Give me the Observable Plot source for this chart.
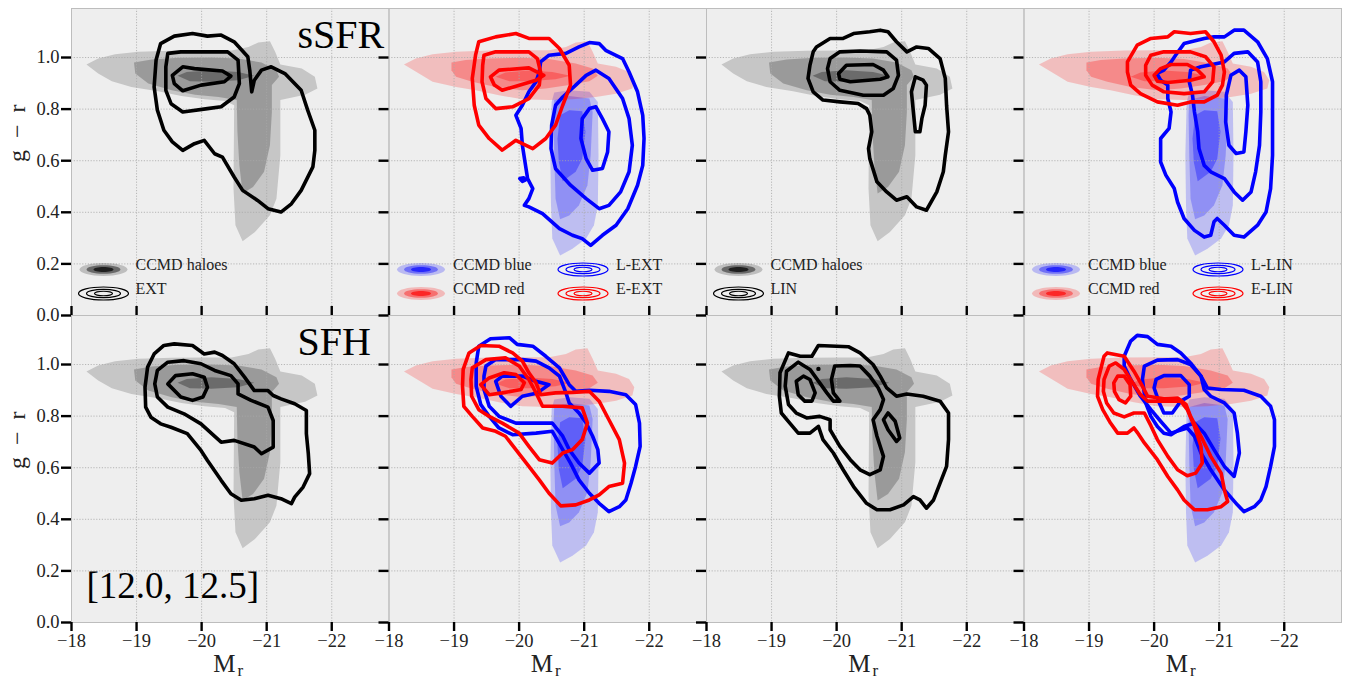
<!DOCTYPE html>
<html><head><meta charset="utf-8">
<script src="https://cdn.jsdelivr.net/npm/d3@7"></script>
<script src="https://cdn.jsdelivr.net/npm/@observablehq/plot@0.6"></script>
<style>body{margin:0;background:#fff;} #chart svg{display:block}</style>
</head><body><div id="chart"></div>
<script>
// ---------- axes / labels ----------
const xTicks = [-18, -19, -20, -21, -22];
const yTicks = [0, 0.2, 0.4, 0.6, 0.8, 1.0];
const rowLabels = ["sSFR", "SFH"];
const massBin = "[12.0, 12.5]";
const xLabel = ["M", "r"];
const yLabel = "g\u2002\u2212\u2002r";
const legendFillLabels = ["CCMD haloes", "CCMD blue", "CCMD red"];
const legendLineLabels = ["EXT", "LIN", "L-EXT", "E-EXT", "L-LIN", "E-LIN"];

// ---------- CCMD shaded distributions [Mr, g-r] ----------
const grayLight = [[-18.23,0.973],[-18.41,0.996],[-18.67,1.013],[-19.03,1.022],[-19.54,1.026],[-20.05,1.027],[-20.46,1.027],[-20.72,1.041],[-20.87,1.058],[-21.05,1.063],[-21.13,1.022],[-21.21,0.973],[-21.54,0.957],[-21.74,0.925],[-21.78,0.880],[-21.59,0.856],[-21.21,0.835],[-21.21,0.621],[-21.15,0.453],[-21.05,0.389],[-20.82,0.324],[-20.63,0.288],[-20.52,0.350],[-20.49,0.492],[-20.50,0.815],[-20.36,0.831],[-20.05,0.838],[-19.69,0.851],[-19.33,0.869],[-18.92,0.886],[-18.62,0.908],[-18.41,0.938]];
const grayMid = [[-18.96,0.981],[-19.23,0.992],[-19.64,0.999],[-20.15,1.000],[-20.56,0.996],[-20.92,0.981],[-21.15,0.951],[-21.19,0.925],[-21.08,0.893],[-21.08,0.789],[-21.05,0.660],[-20.96,0.557],[-20.79,0.498],[-20.63,0.473],[-20.58,0.582],[-20.55,0.712],[-20.54,0.835],[-20.26,0.847],[-19.90,0.856],[-19.54,0.873],[-19.18,0.899],[-18.98,0.938]];
const grayDark = [[-19.63,0.929],[-19.77,0.944],[-20.15,0.951],[-20.56,0.944],[-20.81,0.929],[-20.56,0.912],[-20.15,0.906],[-19.82,0.908]];
const redLight = [[-18.23,0.973],[-18.41,0.996],[-18.67,1.013],[-19.03,1.022],[-19.54,1.027],[-20.05,1.028],[-20.46,1.028],[-20.72,1.041],[-20.87,1.058],[-21.05,1.063],[-21.13,1.022],[-21.21,0.977],[-21.49,0.964],[-21.69,0.944],[-21.77,0.912],[-21.74,0.880],[-21.49,0.860],[-21.18,0.847],[-20.82,0.838],[-20.46,0.835],[-20.05,0.838],[-19.69,0.854],[-19.33,0.873],[-19.03,0.886],[-18.67,0.906],[-18.46,0.938]];
const redMid = [[-18.96,0.981],[-19.18,0.990],[-19.54,0.996],[-20.05,0.999],[-20.46,0.994],[-20.87,0.977],[-21.13,0.957],[-21.21,0.929],[-21.08,0.908],[-20.77,0.893],[-20.41,0.880],[-20.05,0.873],[-19.64,0.886],[-19.28,0.906],[-19.03,0.925],[-18.96,0.951]];
const redDark = [[-19.64,0.925],[-19.79,0.942],[-20.15,0.950],[-20.51,0.944],[-20.79,0.929],[-20.56,0.916],[-20.15,0.908],[-19.85,0.908]];
const blueLight = [[-20.50,0.828],[-20.54,0.864],[-20.77,0.873],[-21.08,0.867],[-21.21,0.828],[-21.22,0.621],[-21.21,0.427],[-21.15,0.350],[-21.03,0.298],[-20.82,0.259],[-20.63,0.233],[-20.51,0.298],[-20.49,0.427],[-20.48,0.621]];
const blueMid = [[-20.54,0.835],[-20.77,0.851],[-21.08,0.841],[-21.13,0.789],[-21.10,0.621],[-21.05,0.505],[-20.92,0.427],[-20.77,0.388],[-20.63,0.373],[-20.56,0.453],[-20.54,0.621],[-20.53,0.776]];
const blueDark = [[-20.63,0.776],[-20.77,0.796],[-20.97,0.792],[-21.02,0.712],[-20.97,0.608],[-20.87,0.557],[-20.67,0.520],[-20.61,0.595],[-20.59,0.686]];

// ---------- model contours, sSFR row ----------
const ssfrExtOut = [[-19.37,1.054],[-19.58,1.083],[-19.86,1.093],[-20.09,1.083],[-20.30,1.087],[-20.50,1.061],[-20.71,1.003],[-20.74,0.951],[-20.77,0.867],[-20.81,0.912],[-20.92,0.951],[-21.07,0.964],[-21.28,0.938],[-21.53,0.873],[-21.63,0.796],[-21.74,0.718],[-21.74,0.640],[-21.71,0.576],[-21.53,0.485],[-21.38,0.433],[-21.22,0.401],[-21.02,0.414],[-20.86,0.446],[-20.63,0.485],[-20.50,0.537],[-20.32,0.614],[-20.20,0.627],[-20.04,0.679],[-19.89,0.666],[-19.71,0.640],[-19.55,0.673],[-19.42,0.718],[-19.32,0.796],[-19.27,0.886],[-19.30,0.990]];
const ssfrExtMid = [[-19.48,1.016],[-19.68,1.022],[-20.40,1.022],[-20.56,0.990],[-20.58,0.899],[-20.50,0.847],[-20.30,0.809],[-20.09,0.802],[-19.71,0.789],[-19.53,0.821],[-19.45,0.873],[-19.45,0.964]];
const ssfrExtIn = [[-19.55,0.931],[-19.71,0.964],[-19.89,0.957],[-20.32,0.948],[-20.45,0.928],[-20.35,0.906],[-19.99,0.893],[-19.71,0.871],[-19.58,0.899]];
const ssfrEextOut = [[-19.38,1.061],[-19.64,1.080],[-19.95,1.093],[-20.15,1.074],[-20.46,1.074],[-20.62,1.035],[-20.77,0.970],[-20.79,0.893],[-20.67,0.815],[-20.56,0.738],[-20.41,0.686],[-20.21,0.647],[-20.05,0.666],[-19.95,0.679],[-19.74,0.641],[-19.54,0.686],[-19.38,0.738],[-19.31,0.815],[-19.28,0.919],[-19.33,1.009]];
const ssfrEextMid = [[-19.46,1.009],[-19.64,1.022],[-20.15,1.022],[-20.28,0.996],[-20.33,0.944],[-20.31,0.893],[-20.15,0.841],[-19.90,0.809],[-19.64,0.802],[-19.49,0.841],[-19.43,0.906],[-19.44,0.970]];
const ssfrEextIn = [[-19.56,0.925],[-19.69,0.951],[-20.15,0.960],[-20.38,0.931],[-20.26,0.912],[-19.74,0.873],[-19.62,0.893]];
const ssfrLextOut = [[-20.33,0.983],[-20.46,1.009],[-20.72,1.016],[-20.92,1.041],[-21.08,1.058],[-21.23,1.054],[-21.33,1.028],[-21.59,0.996],[-21.69,0.944],[-21.82,0.867],[-21.90,0.776],[-21.92,0.686],[-21.90,0.582],[-21.82,0.505],[-21.67,0.414],[-21.49,0.350],[-21.28,0.311],[-21.10,0.272],[-20.97,0.298],[-20.82,0.311],[-20.62,0.337],[-20.36,0.395],[-20.15,0.421],[-20.08,0.427],[-20.15,0.453],[-20.21,0.492],[-20.13,0.531],[-20.05,0.660],[-20.03,0.725],[-19.95,0.776],[-20.05,0.815],[-20.15,0.867],[-20.26,0.906],[-20.31,0.944]];
const ssfrLextMid = [[-20.87,0.893],[-21.03,0.931],[-21.18,0.951],[-21.38,0.919],[-21.59,0.841],[-21.69,0.763],[-21.74,0.660],[-21.69,0.557],[-21.56,0.479],[-21.38,0.427],[-21.23,0.414],[-21.03,0.453],[-20.79,0.505],[-20.56,0.569],[-20.49,0.647],[-20.50,0.738],[-20.56,0.815],[-20.67,0.847]];
const ssfrLextIn = [[-21.08,0.802],[-21.18,0.809],[-21.28,0.763],[-21.38,0.712],[-21.36,0.634],[-21.28,0.570],[-21.13,0.563],[-21.03,0.608],[-20.95,0.686],[-20.97,0.763]];
const ssfrLextSpot = [[-20.01,0.531],[-20.07,0.534],[-20.10,0.526],[-20.05,0.520]];
const ssfrLinOut = [[-19.69,1.041],[-19.90,1.074],[-20.10,1.074],[-20.26,1.093],[-20.51,1.100],[-20.67,1.106],[-20.79,1.100],[-20.92,1.061],[-21.08,1.022],[-21.23,1.041],[-21.41,1.035],[-21.59,0.996],[-21.67,0.919],[-21.69,0.815],[-21.72,0.712],[-21.67,0.621],[-21.64,0.557],[-21.54,0.479],[-21.38,0.408],[-21.23,0.421],[-21.08,0.460],[-20.92,0.447],[-20.77,0.479],[-20.62,0.518],[-20.51,0.608],[-20.49,0.647],[-20.54,0.712],[-20.51,0.776],[-20.46,0.802],[-20.33,0.822],[-20.05,0.828],[-19.79,0.835],[-19.64,0.867],[-19.56,0.919],[-19.59,0.970],[-19.64,1.022]];
const ssfrLinMid = [[-19.90,0.996],[-20.05,1.022],[-20.36,1.025],[-20.77,1.022],[-20.92,0.990],[-20.95,0.931],[-20.87,0.880],[-20.72,0.854],[-20.41,0.854],[-20.05,0.873],[-19.90,0.906],[-19.86,0.957]];
const ssfrLinIn = [[-20.03,0.938],[-20.15,0.970],[-20.56,0.973],[-20.72,0.951],[-20.79,0.925],[-20.67,0.916],[-20.21,0.906],[-20.05,0.916]];
const ssfrLinSide = [[-21.21,0.925],[-21.33,0.912],[-21.38,0.893],[-21.36,0.815],[-21.31,0.763],[-21.28,0.712],[-21.21,0.712],[-21.18,0.789],[-21.15,0.867]];
const ssfrElinOut = [[-19.59,0.983],[-19.74,1.048],[-19.95,1.074],[-20.21,1.080],[-20.31,1.100],[-20.56,1.093],[-20.79,1.100],[-20.92,1.061],[-21.03,1.009],[-21.08,0.944],[-21.05,0.893],[-20.97,0.854],[-20.77,0.828],[-20.56,0.828],[-20.36,0.815],[-20.05,0.828],[-19.79,0.860],[-19.64,0.893],[-19.59,0.944]];
const ssfrElinMid = [[-19.87,0.970],[-19.95,1.009],[-20.15,1.022],[-20.56,1.022],[-20.79,1.003],[-20.92,0.964],[-20.90,0.906],[-20.77,0.867],[-20.46,0.860],[-20.15,0.867],[-19.97,0.893],[-19.87,0.931]];
const ssfrElinIn = [[-20.00,0.931],[-20.10,0.957],[-20.26,0.973],[-20.51,0.973],[-20.67,0.951],[-20.77,0.925],[-20.56,0.912],[-20.21,0.903],[-20.05,0.908]];
const ssfrLlinOut = [[-20.33,1.009],[-20.46,1.054],[-20.77,1.074],[-20.92,1.080],[-21.08,1.080],[-21.23,1.106],[-21.38,1.106],[-21.59,1.061],[-21.74,0.996],[-21.82,0.906],[-21.82,0.750],[-21.82,0.621],[-21.79,0.492],[-21.72,0.401],[-21.59,0.350],[-21.38,0.304],[-21.23,0.311],[-21.08,0.350],[-20.97,0.376],[-20.92,0.363],[-20.87,0.311],[-20.77,0.304],[-20.62,0.330],[-20.46,0.376],[-20.36,0.440],[-20.31,0.492],[-20.18,0.544],[-20.10,0.595],[-20.10,0.686],[-20.23,0.725],[-20.26,0.789],[-20.21,0.841],[-20.21,0.893],[-20.10,0.912],[-20.04,0.938],[-20.15,0.951],[-20.26,0.983]];
const ssfrLlinMid = [[-20.56,0.951],[-20.72,0.964],[-21.08,0.983],[-21.23,1.016],[-21.44,1.022],[-21.59,0.983],[-21.64,0.906],[-21.64,0.789],[-21.62,0.660],[-21.56,0.557],[-21.49,0.479],[-21.36,0.447],[-21.23,0.479],[-21.08,0.531],[-20.87,0.557],[-20.77,0.582],[-20.69,0.647],[-20.67,0.712],[-20.62,0.789],[-20.59,0.854],[-20.54,0.906]];
const ssfrLlinIn = [[-21.18,0.931],[-21.31,0.951],[-21.41,0.925],[-21.44,0.815],[-21.41,0.712],[-21.38,0.634],[-21.26,0.628],[-21.15,0.660],[-21.10,0.750],[-21.11,0.854]];

// ---------- model contours, SFH row ----------
const sfhExtOut = [[-19.27,1.041],[-19.42,1.074],[-19.58,1.080],[-19.86,1.074],[-20.04,1.041],[-20.20,1.048],[-20.32,1.035],[-20.50,1.003],[-20.66,0.951],[-20.81,0.899],[-21.02,0.899],[-21.10,0.880],[-21.22,0.867],[-21.43,0.848],[-21.61,0.822],[-21.61,0.732],[-21.64,0.654],[-21.66,0.577],[-21.56,0.525],[-21.43,0.486],[-21.38,0.461],[-21.22,0.480],[-21.02,0.493],[-20.81,0.480],[-20.61,0.474],[-20.45,0.499],[-20.30,0.551],[-20.09,0.628],[-19.99,0.667],[-19.78,0.732],[-19.53,0.757],[-19.37,0.770],[-19.22,0.796],[-19.14,0.835],[-19.13,0.912],[-19.17,0.990]];
const sfhExtMid = [[-19.32,0.977],[-19.48,1.009],[-19.73,1.015],[-19.99,1.003],[-20.20,0.977],[-20.45,0.957],[-20.56,0.925],[-20.56,0.886],[-20.76,0.861],[-21.02,0.835],[-21.10,0.783],[-21.10,0.680],[-20.92,0.654],[-20.81,0.680],[-20.50,0.706],[-20.30,0.699],[-19.99,0.770],[-19.73,0.809],[-19.48,0.835],[-19.32,0.874],[-19.28,0.925]];
const sfhExtIn = [[-19.48,0.925],[-19.60,0.957],[-19.86,0.964],[-20.04,0.951],[-20.09,0.912],[-20.02,0.874],[-19.86,0.861],[-19.68,0.874]];
const sfhLextOut = [[-19.38,1.071],[-19.56,1.100],[-19.85,1.104],[-19.97,1.078],[-20.21,1.071],[-20.41,1.032],[-20.62,0.987],[-20.77,0.922],[-20.87,0.896],[-21.08,0.900],[-21.38,0.896],[-21.64,0.883],[-21.79,0.845],[-21.85,0.773],[-21.86,0.683],[-21.79,0.605],[-21.72,0.540],[-21.64,0.475],[-21.54,0.449],[-21.38,0.430],[-21.23,0.462],[-21.08,0.501],[-20.92,0.553],[-20.79,0.618],[-20.67,0.670],[-20.51,0.741],[-20.26,0.734],[-19.90,0.728],[-19.69,0.754],[-19.54,0.799],[-19.41,0.845],[-19.34,0.916],[-19.34,1.006]];
const sfhLextMid = [[-19.49,0.994],[-19.64,1.019],[-20.05,1.019],[-20.26,1.013],[-20.46,0.987],[-20.62,0.955],[-20.72,0.890],[-20.77,0.851],[-20.92,0.812],[-21.03,0.773],[-21.13,0.722],[-21.21,0.670],[-21.23,0.618],[-21.08,0.579],[-20.92,0.618],[-20.77,0.670],[-20.67,0.722],[-20.51,0.773],[-20.21,0.773],[-19.95,0.773],[-19.69,0.799],[-19.54,0.838],[-19.46,0.903],[-19.46,0.955]];
const sfhLextIn = [[-19.64,0.935],[-19.74,0.955],[-20.05,0.955],[-20.26,0.935],[-20.46,0.922],[-20.28,0.890],[-20.05,0.877],[-19.87,0.838],[-19.72,0.877]];
const sfhEextOut = [[-19.23,1.045],[-19.41,1.074],[-19.69,1.071],[-19.90,1.045],[-20.05,1.013],[-20.15,0.968],[-20.26,0.929],[-20.33,0.883],[-20.56,0.890],[-20.82,0.892],[-21.08,0.896],[-21.23,0.858],[-21.38,0.786],[-21.54,0.709],[-21.62,0.618],[-21.59,0.540],[-21.38,0.527],[-21.23,0.495],[-21.08,0.475],[-20.87,0.456],[-20.64,0.452],[-20.46,0.501],[-20.31,0.553],[-20.15,0.605],[-19.95,0.670],[-19.79,0.722],[-19.64,0.741],[-19.44,0.754],[-19.28,0.799],[-19.15,0.838],[-19.13,0.916],[-19.14,0.981]];
const sfhEextMid = [[-19.28,0.987],[-19.49,1.019],[-19.79,1.026],[-20.00,0.994],[-20.15,0.942],[-20.26,0.890],[-20.36,0.838],[-20.67,0.838],[-20.97,0.832],[-21.05,0.773],[-20.97,0.709],[-20.82,0.670],[-20.67,0.657],[-20.51,0.618],[-20.31,0.631],[-20.15,0.683],[-20.00,0.734],[-19.74,0.773],[-19.54,0.799],[-19.38,0.825],[-19.27,0.877],[-19.26,0.942]];
const sfhEextIn = [[-19.41,0.922],[-19.54,0.948],[-19.77,0.968],[-19.95,0.961],[-20.08,0.929],[-20.03,0.903],[-19.74,0.890],[-19.54,0.883]];
const sfhLinOut = [[-19.13,0.968],[-19.26,1.045],[-19.44,1.032],[-19.62,1.032],[-19.72,1.074],[-20.00,1.071],[-20.18,1.069],[-20.36,1.045],[-20.56,1.000],[-20.67,0.955],[-20.77,0.909],[-20.92,0.877],[-21.08,0.886],[-21.33,0.877],[-21.59,0.858],[-21.72,0.812],[-21.72,0.709],[-21.69,0.605],[-21.59,0.540],[-21.49,0.475],[-21.38,0.443],[-21.28,0.475],[-21.18,0.488],[-21.03,0.456],[-20.82,0.437],[-20.62,0.437],[-20.46,0.462],[-20.26,0.527],[-20.10,0.592],[-19.95,0.657],[-19.79,0.709],[-19.72,0.760],[-19.59,0.734],[-19.41,0.734],[-19.28,0.773],[-19.15,0.812],[-19.12,0.877]];
const sfhLinMid = [[-19.23,0.974],[-19.41,1.009],[-19.59,0.981],[-19.74,0.929],[-19.85,0.890],[-19.95,0.858],[-20.05,0.858],[-19.95,0.890],[-19.92,0.942],[-19.97,0.994],[-20.21,0.996],[-20.36,0.994],[-20.51,0.955],[-20.64,0.909],[-20.72,0.864],[-20.67,0.825],[-20.56,0.786],[-20.62,0.722],[-20.72,0.644],[-20.67,0.592],[-20.51,0.573],[-20.36,0.592],[-20.21,0.631],[-20.05,0.683],[-19.90,0.747],[-19.90,0.786],[-19.74,0.799],[-19.54,0.793],[-19.38,0.812],[-19.26,0.845],[-19.21,0.916]];
const sfhLinIn = [[-19.38,0.935],[-19.49,0.955],[-19.59,0.942],[-19.67,0.890],[-19.62,0.858],[-19.51,0.858],[-19.41,0.883]];
const sfhLinSide = [[-20.72,0.786],[-20.79,0.812],[-20.90,0.780],[-20.97,0.715],[-20.92,0.702],[-20.79,0.747]];
const sfhLinSpot = [[-19.72,0.983]];
const sfhLlinOut = [[-19.54,1.032],[-19.64,1.091],[-19.74,1.113],[-19.90,1.108],[-20.05,1.078],[-20.26,1.071],[-20.41,1.045],[-20.56,1.006],[-20.72,0.955],[-20.82,0.909],[-21.03,0.903],[-21.38,0.900],[-21.64,0.877],[-21.79,0.838],[-21.85,0.786],[-21.85,0.683],[-21.79,0.605],[-21.72,0.527],[-21.64,0.475],[-21.54,0.449],[-21.38,0.430],[-21.28,0.456],[-21.08,0.514],[-20.87,0.592],[-20.72,0.657],[-20.62,0.722],[-20.51,0.754],[-20.26,0.734],[-20.10,0.780],[-19.95,0.825],[-19.79,0.877],[-19.64,0.942],[-19.54,0.994]];
const sfhLlinMid = [[-19.85,0.994],[-20.05,1.017],[-20.36,1.019],[-20.56,1.000],[-20.72,0.955],[-20.77,0.903],[-20.87,0.877],[-21.08,0.851],[-21.23,0.812],[-21.28,0.734],[-21.31,0.657],[-21.23,0.566],[-21.08,0.605],[-20.92,0.670],[-20.77,0.734],[-20.62,0.773],[-20.46,0.760],[-20.26,0.728],[-20.15,0.734],[-20.05,0.760],[-19.95,0.799],[-19.87,0.851],[-19.82,0.942]];
const sfhLlinIn = [[-20.03,0.942],[-20.15,0.957],[-20.41,0.957],[-20.54,0.922],[-20.54,0.877],[-20.41,0.858],[-20.28,0.812],[-20.15,0.812],[-20.08,0.851],[-20.00,0.909]];
const sfhElinOut = [[-19.14,0.942],[-19.23,1.032],[-19.28,1.045],[-19.54,1.032],[-19.69,0.974],[-19.82,0.916],[-19.90,0.877],[-20.15,0.867],[-20.36,0.870],[-20.49,0.845],[-20.56,0.799],[-20.72,0.722],[-20.87,0.644],[-21.03,0.579],[-21.08,0.514],[-21.13,0.469],[-21.03,0.449],[-20.82,0.437],[-20.62,0.437],[-20.46,0.475],[-20.36,0.514],[-20.21,0.566],[-20.05,0.631],[-19.85,0.696],[-19.74,0.737],[-19.69,0.754],[-19.59,0.734],[-19.44,0.734],[-19.33,0.773],[-19.21,0.825],[-19.13,0.877]];
const sfhElinMid = [[-19.23,0.942],[-19.31,0.994],[-19.41,1.006],[-19.54,0.981],[-19.67,0.929],[-19.79,0.883],[-19.90,0.858],[-20.15,0.858],[-20.41,0.858],[-20.51,0.825],[-20.62,0.760],[-20.72,0.683],[-20.74,0.618],[-20.64,0.579],[-20.51,0.569],[-20.36,0.592],[-20.21,0.644],[-20.05,0.709],[-19.95,0.763],[-19.85,0.812],[-19.69,0.812],[-19.54,0.797],[-19.38,0.812],[-19.27,0.851],[-19.22,0.896]];
const sfhElinIn = [[-19.38,0.929],[-19.44,0.955],[-19.54,0.955],[-19.63,0.922],[-19.64,0.877],[-19.56,0.851],[-19.46,0.864],[-19.39,0.896]];

// ---------- build tables ----------
const GRAY = {sets: [grayLight, grayMid, grayDark], color: "#000000", op: [0.17, 0.22, 0.3], icon: [0.2, 0.45, 0.7]};
const BLUE = {sets: [blueLight, blueMid, blueDark], color: "#0000ff", op: [0.2, 0.24, 0.34], icon: [0.22, 0.4, 0.65]};
const RED = {sets: [redLight, redMid, redDark], color: "#ff0000", op: [0.2, 0.27, 0.3], icon: [0.22, 0.4, 0.65]};

const panels = [
  {fx: 0, fy: 0, blobs: [GRAY], lines: [["#000", [ssfrExtOut, ssfrExtMid, ssfrExtIn]]]},
  {fx: 1, fy: 0, blobs: [BLUE, RED], lines: [["#0000ff", [ssfrLextOut, ssfrLextMid, ssfrLextIn, ssfrLextSpot]], ["#ff0000", [ssfrEextOut, ssfrEextMid, ssfrEextIn]]]},
  {fx: 2, fy: 0, blobs: [GRAY], lines: [["#000", [ssfrLinOut, ssfrLinMid, ssfrLinIn, ssfrLinSide]]]},
  {fx: 3, fy: 0, blobs: [BLUE, RED], lines: [["#0000ff", [ssfrLlinOut, ssfrLlinMid, ssfrLlinIn]], ["#ff0000", [ssfrElinOut, ssfrElinMid, ssfrElinIn]]]},
  {fx: 0, fy: 1, blobs: [GRAY], lines: [["#000", [sfhExtOut, sfhExtMid, sfhExtIn]]]},
  {fx: 1, fy: 1, blobs: [BLUE, RED], lines: [["#0000ff", [sfhLextOut, sfhLextMid, sfhLextIn]], ["#ff0000", [sfhEextOut, sfhEextMid, sfhEextIn]]]},
  {fx: 2, fy: 1, blobs: [GRAY], lines: [["#000", [sfhLinOut, sfhLinMid, sfhLinIn, sfhLinSide, sfhLinSpot]]]},
  {fx: 3, fy: 1, blobs: [BLUE, RED], lines: [["#0000ff", [sfhLlinOut, sfhLlinMid, sfhLlinIn]], ["#ff0000", [sfhElinOut, sfhElinMid, sfhElinIn]]]}
];
const rows = (ring, fx, fy) => ring.map(([x, y]) => ({x, y, fx, fy}));

// ellipse symbol for legend glyphs
function ellipse(aspect) {
  return {draw(ctx, size) {
    const rx = Math.sqrt(size / Math.PI), ry = rx * aspect, k = 0.5523;
    ctx.moveTo(rx, 0);
    ctx.bezierCurveTo(rx, ry * k, rx * k, ry, 0, ry);
    ctx.bezierCurveTo(-rx * k, ry, -rx, ry * k, -rx, 0);
    ctx.bezierCurveTo(-rx, -ry * k, -rx * k, -ry, 0, -ry);
    ctx.bezierCurveTo(rx * k, -ry, rx, -ry * k, rx, 0);
    ctx.closePath();
  }};
}

const FONT = "Liberation Serif";
const PW = (1349 - 71 - 8) / 4, PH = (683 - 8 - 61) / 2;
const fxs = [0, 1, 2, 3];
const marks = [];
marks.push(Plot.frame({fill: "#eeeeee", stroke: "none"}));

// shaded distributions
for (const p of panels) for (const b of p.blobs) b.sets.forEach((ring, i) => {
  marks.push(Plot.line(rows(ring, p.fx, p.fy), {x: "x", y: "y", fx: "fx", fy: "fy", curve: "linear-closed", fill: b.color, fillOpacity: b.op[i], stroke: "none"}));
});
// grid
marks.push(Plot.ruleX(xTicks.slice(1), {stroke: "#a8a8a8", strokeWidth: 0.8, strokeDasharray: "1.2,1.6"}));
marks.push(Plot.ruleY(yTicks.slice(1), {stroke: "#a8a8a8", strokeWidth: 0.8, strokeDasharray: "1.2,1.6"}));
// contours
for (const p of panels) for (const [color, rings] of p.lines) rings.forEach(ring => {
  if (ring.length === 1) marks.push(Plot.dot(rows(ring, p.fx, p.fy), {x: "x", y: "y", fx: "fx", fy: "fy", r: 2.2, fill: color}));
  else marks.push(Plot.line(rows(ring, p.fx, p.fy), {x: "x", y: "y", fx: "fx", fy: "fy", curve: "linear-closed", stroke: color, strokeWidth: 3.6, strokeLinejoin: "round"}));
});

// legends
const legendSpec = [
  {fx: 0, col: 0, row: 0, kind: "fill", blob: GRAY, label: legendFillLabels[0]},
  {fx: 0, col: 0, row: 1, kind: "line", color: "#000", label: legendLineLabels[0]},
  {fx: 2, col: 0, row: 0, kind: "fill", blob: GRAY, label: legendFillLabels[0]},
  {fx: 2, col: 0, row: 1, kind: "line", color: "#000", label: legendLineLabels[1]},
  {fx: 1, col: 0, row: 0, kind: "fill", blob: BLUE, label: legendFillLabels[1]},
  {fx: 1, col: 0, row: 1, kind: "fill", blob: RED, label: legendFillLabels[2]},
  {fx: 1, col: 1, row: 0, kind: "line", color: "#0000ff", label: legendLineLabels[2]},
  {fx: 1, col: 1, row: 1, kind: "line", color: "#ff0000", label: legendLineLabels[3]},
  {fx: 3, col: 0, row: 0, kind: "fill", blob: BLUE, label: legendFillLabels[1]},
  {fx: 3, col: 0, row: 1, kind: "fill", blob: RED, label: legendFillLabels[2]},
  {fx: 3, col: 1, row: 0, kind: "line", color: "#0000ff", label: legendLineLabels[4]},
  {fx: 3, col: 1, row: 1, kind: "line", color: "#ff0000", label: legendLineLabels[5]}
];
for (const e of legendSpec) {
  const d = [{fx: e.fx, fy: 0, label: e.label}];
  const ix = e.col ? 194 : 32, tx = e.col ? 227 : 64, dy = e.row ? -22 : -46;
  if (e.kind === "fill") {
    [[24, 0.27], [17, 0.25], [10, 0.25]].forEach(([r, a], i) =>
      marks.push(Plot.dot(d, {fx: "fx", fy: "fy", frameAnchor: "bottom-left", dx: ix, dy, r, symbol: ellipse(a), fill: e.blob.color, fillOpacity: e.blob.icon[i], stroke: "none"})));
  } else {
    [[25, 0.26], [17, 0.24], [9, 0.25]].forEach(([r, a]) =>
      marks.push(Plot.dot(d, {fx: "fx", fy: "fy", frameAnchor: "bottom-left", dx: ix, dy, r, symbol: ellipse(a), fill: "none", stroke: e.color, strokeWidth: 1.2})));
  }
  marks.push(Plot.text(d, {fx: "fx", fy: "fy", frameAnchor: "bottom-left", dx: tx, dy, text: "label", textAnchor: "start", fontSize: 16, fill: "#222"}));
}

// panel titles & bin label
marks.push(Plot.text([{fx: 0, fy: 0, label: rowLabels[0]}, {fx: 0, fy: 1, label: rowLabels[1]}],
  {fx: "fx", fy: "fy", text: "label", frameAnchor: "top-left", dx: 226, dy: 39, lineAnchor: "bottom", textAnchor: "start", fontSize: 40, fill: "#000"}));
marks.push(Plot.text([{fx: 0, fy: 1, label: massBin}],
  {fx: "fx", fy: "fy", text: "label", frameAnchor: "bottom-left", dx: 15, dy: -25, lineAnchor: "bottom", textAnchor: "start", fontSize: 37, fill: "#000"}));

// panel border
marks.push(Plot.frame({stroke: "#bdbdbd", strokeWidth: 1}));

// ticks: left column outward; every panel's left-axis ticks reach into its left neighbour
const TK = {stroke: "#000", strokeWidth: 2.4};
marks.push(Plot.tickY(yTicks.map(y => ({y, fx: 0})), {y: "y", fx: "fx", insetLeft: -10, insetRight: PW, ...TK}));
marks.push(Plot.tickY([0, 1, 2].flatMap(fx => yTicks.map(y => ({y, fx}))), {y: "y", fx: "fx", insetLeft: PW - 10, insetRight: 0, ...TK}));
marks.push(Plot.tickX(fxs.flatMap(fx => xTicks.map(x => ({x, fx, fy: 0}))), {x: "x", fx: "fx", fy: "fy", insetTop: PH - 9, ...TK}));
marks.push(Plot.tickX(fxs.flatMap(fx => xTicks.map(x => ({x, fx, fy: 1}))), {x: "x", fx: "fx", fy: "fy", insetTop: PH, insetBottom: -9, ...TK}));
// tick labels
marks.push(Plot.text([0, 1].flatMap(fy => yTicks.map(y => ({y, fx: 0, fy}))), {y: "y", fx: "fx", fy: "fy", frameAnchor: "left", dx: -12, textAnchor: "end", text: d => d.y.toFixed(1), fontSize: 18.5, fill: "#222"}));
marks.push(Plot.text(fxs.flatMap(fx => xTicks.map(x => ({x, fx, fy: 1}))), {x: "x", fx: "fx", fy: "fy", frameAnchor: "bottom", dy: 24, text: d => "\u2212" + Math.abs(d.x), fontSize: 18.5, fill: "#222"}));
// axis titles
marks.push(Plot.text(fxs.map(fx => ({fx, fy: 1})), {fx: "fx", fy: "fy", frameAnchor: "bottom", dx: -6, dy: 49, lineAnchor: "bottom", text: () => xLabel[0], fontSize: 25, fill: "#222"}));
marks.push(Plot.text(fxs.map(fx => ({fx, fy: 1})), {fx: "fx", fy: "fy", frameAnchor: "bottom", dx: 10, dy: 53, lineAnchor: "bottom", text: () => xLabel[1], fontSize: 17, fill: "#222"}));
marks.push(Plot.text([0, 1].map(fy => ({fx: 0, fy})), {fx: "fx", fy: "fy", frameAnchor: "left", dx: -54, rotate: -90, text: () => yLabel, fontSize: 24, fill: "#222"}));

const chart = Plot.plot({
  width: 1349, height: 683,
  marginLeft: 71, marginRight: 8, marginTop: 8, marginBottom: 61,
  x: {domain: [-18, -22.88], axis: null},
  y: {domain: [0, 1.19], axis: null},
  fx: {domain: fxs, padding: 0, round: false, axis: null},
  fy: {domain: [0, 1], padding: 0, round: false, axis: null},
  style: {fontFamily: FONT, background: "#ffffff", color: "#000"},
  marks
});
document.getElementById("chart").appendChild(chart);
</script></body></html>
